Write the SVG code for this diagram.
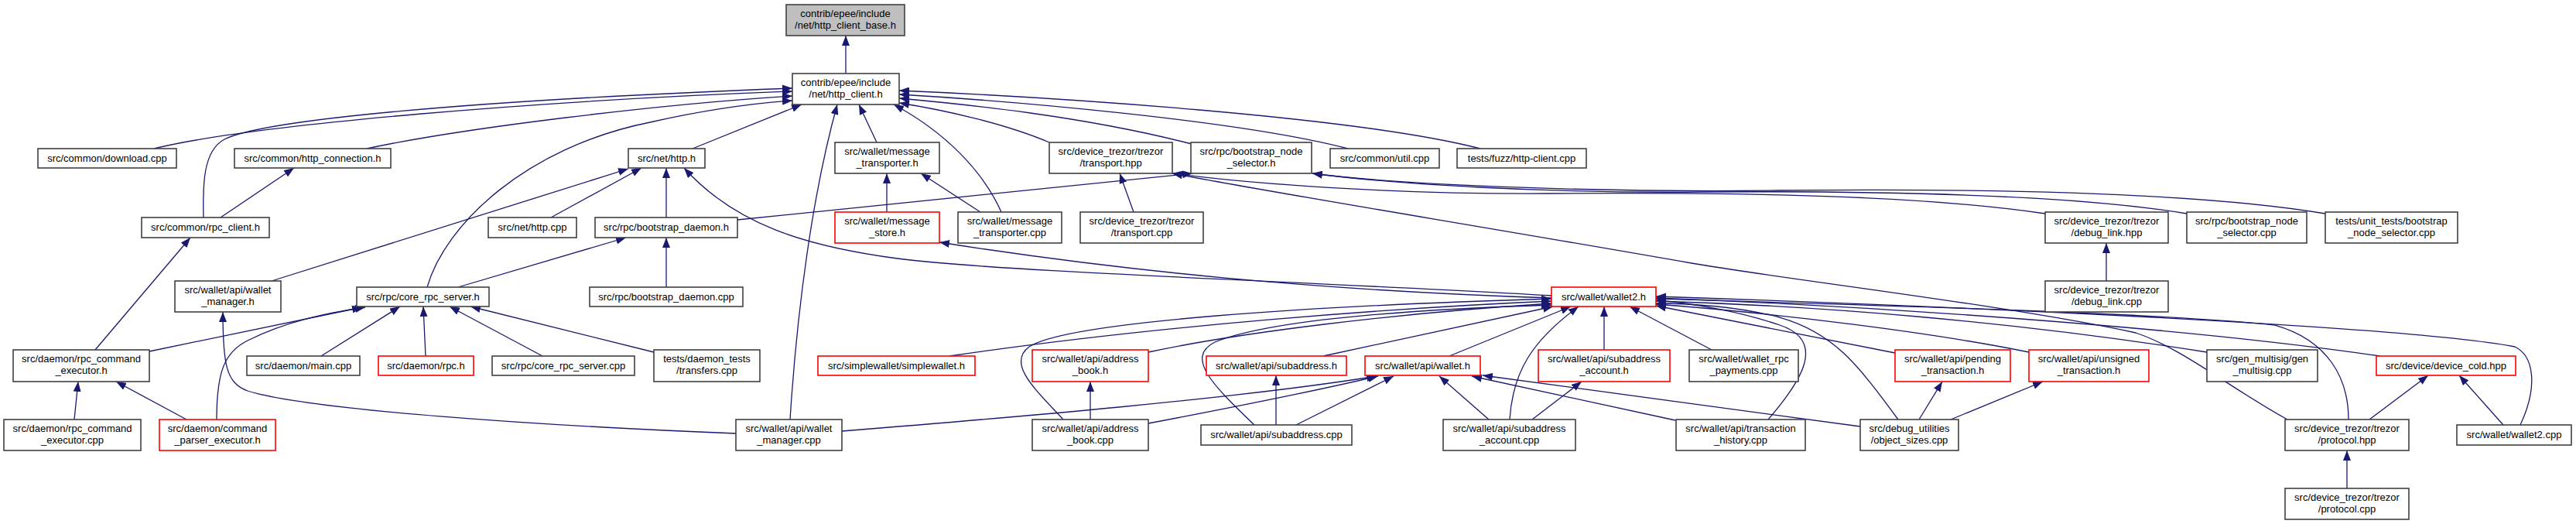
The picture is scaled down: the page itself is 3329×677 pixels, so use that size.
<svg xmlns="http://www.w3.org/2000/svg" width="3329" height="677" viewBox="0 0 3329 677">
<defs>
<marker id="a" markerUnits="userSpaceOnUse" markerWidth="13" markerHeight="10" refX="13" refY="5" orient="auto"><path d="M0,0 L13,5 L0,10 Z" fill="#191970"/></marker>
<style>
.n rect{fill:#fff;stroke:#404040;stroke-width:1.6}
.r rect{stroke:#ff0000}
.g rect{fill:#bfbfbf}
text{font-family:"Liberation Sans",Arial,Helvetica,sans-serif;font-size:13px;text-anchor:middle;fill:#000}
#edges path{fill:none;stroke:#191970;stroke-width:1.3;marker-end:url(#a)}
</style>
</defs>
<rect width="3329" height="677" fill="#fff"/>
<g id="edges">
<path d="M1093,95 L1093,46"/>
<path d="M199,192 C330,160 700,130 1024,118"/>
<path d="M474,192 C600,165 850,135 1024,124"/>
<path d="M263,281 C262,240 262,195 290,180 C340,155 600,130 1024,114"/>
<path d="M552,371 C575,290 680,190 840,158 C920,140 980,133 1024,130"/>
<path d="M895,192 L1036,135"/>
<path d="M1021,542 C1030,400 1050,250 1082,135"/>
<path d="M1133,184 L1110,135"/>
<path d="M1294,274 C1270,220 1220,170 1155,135"/>
<path d="M1356,184 C1300,160 1220,142 1162,133"/>
<path d="M1540,186 C1400,150 1250,135 1162,127"/>
<path d="M1742,192 C1600,155 1300,130 1162,122"/>
<path d="M1913,192 C1750,150 1350,125 1162,117"/>
<path d="M712,281 L829,217"/>
<path d="M861,281 L861,217"/>
<path d="M351,363 L812,218"/>
<path d="M2005,382 C1700,364 1300,352 1160,334 C1040,318 950,290 884,217"/>
<path d="M2005,385 C1700,375 1450,350 1214,313"/>
<path d="M1146,274 L1146,224"/>
<path d="M1267,274 L1190,224"/>
<path d="M1465,274 L1447,224"/>
<path d="M953,284 L1541,224"/>
<path d="M2643,276 C2500,255 2300,248 2000,250 C1800,251 1620,238 1515,224"/>
<path d="M2956,542 C2880,500 2820,450 2760,430 C2600,395 2300,360 2186,340 C1900,290 1650,250 1515,224"/>
<path d="M2826,276 C2700,255 2500,246 2200,248 C2000,250 1800,238 1696,224"/>
<path d="M3005,276 C2850,250 2600,243 2300,246 C2050,249 1800,238 1696,224"/>
<path d="M2722,363 L2722,314"/>
<path d="M123,452 L246,307"/>
<path d="M193,454 L468,397"/>
<path d="M592,371 L809,307"/>
<path d="M861,371 L861,307"/>
<path d="M285,281 L380,217"/>
<path d="M96,542 L101,493"/>
<path d="M241,542 L150,493"/>
<path d="M280,542 C280,480 290,455 320,440 C370,415 420,405 472,397"/>
<path d="M415,460 L517,396"/>
<path d="M550,460 L547,396"/>
<path d="M701,460 L581,396"/>
<path d="M845,455 L608,396"/>
<path d="M951,560 C700,550 400,530 320,505 C292,495 288,470 288,403"/>
<path d="M1088,557 C1300,540 1600,515 1779,486"/>
<path d="M1484,547 C1600,525 1700,505 1781,486"/>
<path d="M1675,549 L1801,486"/>
<path d="M1409,542 L1409,493"/>
<path d="M1649,549 L1649,485"/>
<path d="M1924,542 L1860,486"/>
<path d="M2165,543 L1902,486"/>
<path d="M2404,551 L1916,485"/>
<path d="M1980,542 L2044,493"/>
<path d="M2480,542 L2510,493"/>
<path d="M2521,542 L2640,493"/>
<path d="M3062,542 L3138,485"/>
<path d="M3235,549 L3178,485"/>
<path d="M3033,631 L3033,582"/>
<path d="M1227,460 C1500,420 1800,398 2005,389"/>
<path d="M1484,455 C1600,430 1800,405 2005,392"/>
<path d="M1374,542 C1340,505 1300,470 1330,448 C1380,415 1700,395 2005,386"/>
<path d="M1621,549 C1570,500 1530,462 1570,442 C1650,410 1850,399 2005,394"/>
<path d="M1710,460 L2007,396"/>
<path d="M1873,460 L2030,396"/>
<path d="M1951,542 C1955,480 1980,440 2040,396"/>
<path d="M2073,452 L2073,396"/>
<path d="M2212,452 L2106,396"/>
<path d="M2285,542 C2330,490 2360,440 2300,420 C2250,403 2190,392 2140,388"/>
<path d="M2453,542 C2400,470 2370,430 2300,410 C2240,395 2180,392 2140,392"/>
<path d="M2449,456 L2140,395"/>
<path d="M2622,455 C2500,430 2300,405 2140,393"/>
<path d="M2852,455 C2600,415 2350,395 2140,389"/>
<path d="M3076,460 C2800,420 2400,395 2140,385"/>
<path d="M3257,549 C3280,500 3275,460 3250,448 C3100,420 2500,395 2140,383"/>
<path d="M3035,542 C3035,490 3010,440 2940,420 C2800,405 2450,395 2140,386"/>
</g>
<g id="n0" class="n g"><rect x="1016" y="6" width="153" height="40"/><text x="1092.5" y="22">contrib/epee/include</text><text x="1092.5" y="36.5">/net/http_client_base.h</text></g>
<g id="n1" class="n"><rect x="1024" y="95" width="138" height="40"/><text x="1093" y="111">contrib/epee/include</text><text x="1093" y="125.5">/net/http_client.h</text></g>
<g id="n2" class="n"><rect x="49" y="192" width="179" height="25"/><text x="138.5" y="209">src/common/download.cpp</text></g>
<g id="n3" class="n"><rect x="303" y="192" width="202" height="25"/><text x="404" y="209">src/common/http_connection.h</text></g>
<g id="n4" class="n"><rect x="812" y="192" width="99" height="25"/><text x="861.5" y="209">src/net/http.h</text></g>
<g id="n5" class="n"><rect x="1079" y="184" width="135" height="40"/><text x="1146.5" y="200">src/wallet/message</text><text x="1146.5" y="214.5">_transporter.h</text></g>
<g id="n6" class="n"><rect x="1356" y="184" width="159" height="40"/><text x="1435.5" y="200">src/device_trezor/trezor</text><text x="1435.5" y="214.5">/transport.hpp</text></g>
<g id="n7" class="n"><rect x="1539" y="184" width="156" height="40"/><text x="1617" y="200">src/rpc/bootstrap_node</text><text x="1617" y="214.5">_selector.h</text></g>
<g id="n8" class="n"><rect x="1719" y="192" width="141" height="25"/><text x="1789.5" y="209">src/common/util.cpp</text></g>
<g id="n9" class="n"><rect x="1883" y="192" width="167" height="25"/><text x="1966.5" y="209">tests/fuzz/http-client.cpp</text></g>
<g id="n10" class="n"><rect x="183" y="281" width="165" height="26"/><text x="265.5" y="298">src/common/rpc_client.h</text></g>
<g id="n11" class="n"><rect x="631" y="281" width="114" height="26"/><text x="688" y="298">src/net/http.cpp</text></g>
<g id="n12" class="n"><rect x="769" y="281" width="184" height="26"/><text x="861" y="298">src/rpc/bootstrap_daemon.h</text></g>
<g id="n13" class="n r"><rect x="1079" y="274" width="135" height="40"/><text x="1146.5" y="290">src/wallet/message</text><text x="1146.5" y="304.5">_store.h</text></g>
<g id="n14" class="n"><rect x="1238" y="274" width="134" height="40"/><text x="1305" y="290">src/wallet/message</text><text x="1305" y="304.5">_transporter.cpp</text></g>
<g id="n15" class="n"><rect x="1396" y="274" width="159" height="40"/><text x="1475.5" y="290">src/device_trezor/trezor</text><text x="1475.5" y="304.5">/transport.cpp</text></g>
<g id="n16" class="n"><rect x="2643" y="274" width="159" height="40"/><text x="2722.5" y="290">src/device_trezor/trezor</text><text x="2722.5" y="304.5">/debug_link.hpp</text></g>
<g id="n17" class="n"><rect x="2826" y="274" width="155" height="40"/><text x="2903.5" y="290">src/rpc/bootstrap_node</text><text x="2903.5" y="304.5">_selector.cpp</text></g>
<g id="n18" class="n"><rect x="3005" y="274" width="171" height="40"/><text x="3090.5" y="290">tests/unit_tests/bootstrap</text><text x="3090.5" y="304.5">_node_selector.cpp</text></g>
<g id="n19" class="n"><rect x="226" y="363" width="137" height="40"/><text x="294.5" y="379">src/wallet/api/wallet</text><text x="294.5" y="393.5">_manager.h</text></g>
<g id="n20" class="n"><rect x="461" y="371" width="171" height="25"/><text x="546.5" y="388">src/rpc/core_rpc_server.h</text></g>
<g id="n21" class="n"><rect x="762" y="371" width="198" height="25"/><text x="861" y="388">src/rpc/bootstrap_daemon.cpp</text></g>
<g id="n22" class="n r"><rect x="2005" y="371" width="135" height="25"/><text x="2072.5" y="388">src/wallet/wallet2.h</text></g>
<g id="n23" class="n"><rect x="2643" y="363" width="159" height="40"/><text x="2722.5" y="379">src/device_trezor/trezor</text><text x="2722.5" y="393.5">/debug_link.cpp</text></g>
<g id="n24" class="n"><rect x="17" y="452" width="176" height="41"/><text x="105" y="468">src/daemon/rpc_command</text><text x="105" y="482.5">_executor.h</text></g>
<g id="n25" class="n"><rect x="319" y="460" width="146" height="25"/><text x="392" y="477">src/daemon/main.cpp</text></g>
<g id="n26" class="n r"><rect x="489" y="460" width="123" height="25"/><text x="550.5" y="477">src/daemon/rpc.h</text></g>
<g id="n27" class="n"><rect x="636" y="460" width="184" height="25"/><text x="728" y="477">src/rpc/core_rpc_server.cpp</text></g>
<g id="n28" class="n"><rect x="845" y="452" width="137" height="41"/><text x="913.5" y="468">tests/daemon_tests</text><text x="913.5" y="482.5">/transfers.cpp</text></g>
<g id="n29" class="n r"><rect x="1057" y="460" width="203" height="25"/><text x="1158.5" y="477">src/simplewallet/simplewallet.h</text></g>
<g id="n30" class="n r"><rect x="1334" y="452" width="150" height="41"/><text x="1409" y="468">src/wallet/api/address</text><text x="1409" y="482.5">_book.h</text></g>
<g id="n31" class="n r"><rect x="1559" y="460" width="181" height="25"/><text x="1649.5" y="477">src/wallet/api/subaddress.h</text></g>
<g id="n32" class="n r"><rect x="1764" y="460" width="149" height="25"/><text x="1838.5" y="477">src/wallet/api/wallet.h</text></g>
<g id="n33" class="n r"><rect x="1988" y="452" width="170" height="41"/><text x="2073" y="468">src/wallet/api/subaddress</text><text x="2073" y="482.5">_account.h</text></g>
<g id="n34" class="n"><rect x="2183" y="452" width="141" height="41"/><text x="2253.5" y="468">src/wallet/wallet_rpc</text><text x="2253.5" y="482.5">_payments.cpp</text></g>
<g id="n35" class="n r"><rect x="2449" y="452" width="149" height="41"/><text x="2523.5" y="468">src/wallet/api/pending</text><text x="2523.5" y="482.5">_transaction.h</text></g>
<g id="n36" class="n r"><rect x="2622" y="452" width="155" height="41"/><text x="2699.5" y="468">src/wallet/api/unsigned</text><text x="2699.5" y="482.5">_transaction.h</text></g>
<g id="n37" class="n"><rect x="2852" y="452" width="143" height="41"/><text x="2923.5" y="468">src/gen_multisig/gen</text><text x="2923.5" y="482.5">_multisig.cpp</text></g>
<g id="n38" class="n r"><rect x="3071" y="460" width="180" height="25"/><text x="3161" y="477">src/device/device_cold.hpp</text></g>
<g id="n39" class="n"><rect x="5" y="542" width="177" height="40"/><text x="93.5" y="558">src/daemon/rpc_command</text><text x="93.5" y="572.5">_executor.cpp</text></g>
<g id="n40" class="n r"><rect x="206" y="542" width="150" height="40"/><text x="281" y="558">src/daemon/command</text><text x="281" y="572.5">_parser_executor.h</text></g>
<g id="n41" class="n"><rect x="951" y="542" width="137" height="40"/><text x="1019.5" y="558">src/wallet/api/wallet</text><text x="1019.5" y="572.5">_manager.cpp</text></g>
<g id="n42" class="n"><rect x="1334" y="542" width="150" height="40"/><text x="1409" y="558">src/wallet/api/address</text><text x="1409" y="572.5">_book.cpp</text></g>
<g id="n43" class="n"><rect x="1552" y="549" width="195" height="26"/><text x="1649.5" y="566">src/wallet/api/subaddress.cpp</text></g>
<g id="n44" class="n"><rect x="1865" y="542" width="171" height="40"/><text x="1950.5" y="558">src/wallet/api/subaddress</text><text x="1950.5" y="572.5">_account.cpp</text></g>
<g id="n45" class="n"><rect x="2166" y="542" width="167" height="40"/><text x="2249.5" y="558">src/wallet/api/transaction</text><text x="2249.5" y="572.5">_history.cpp</text></g>
<g id="n46" class="n"><rect x="2404" y="542" width="127" height="40"/><text x="2467.5" y="558">src/debug_utilities</text><text x="2467.5" y="572.5">/object_sizes.cpp</text></g>
<g id="n47" class="n"><rect x="2953" y="542" width="160" height="40"/><text x="3033" y="558">src/device_trezor/trezor</text><text x="3033" y="572.5">/protocol.hpp</text></g>
<g id="n48" class="n"><rect x="3175" y="549" width="148" height="26"/><text x="3249" y="566">src/wallet/wallet2.cpp</text></g>
<g id="n49" class="n"><rect x="2953" y="631" width="160" height="40"/><text x="3033" y="647">src/device_trezor/trezor</text><text x="3033" y="661.5">/protocol.cpp</text></g>
</svg>
